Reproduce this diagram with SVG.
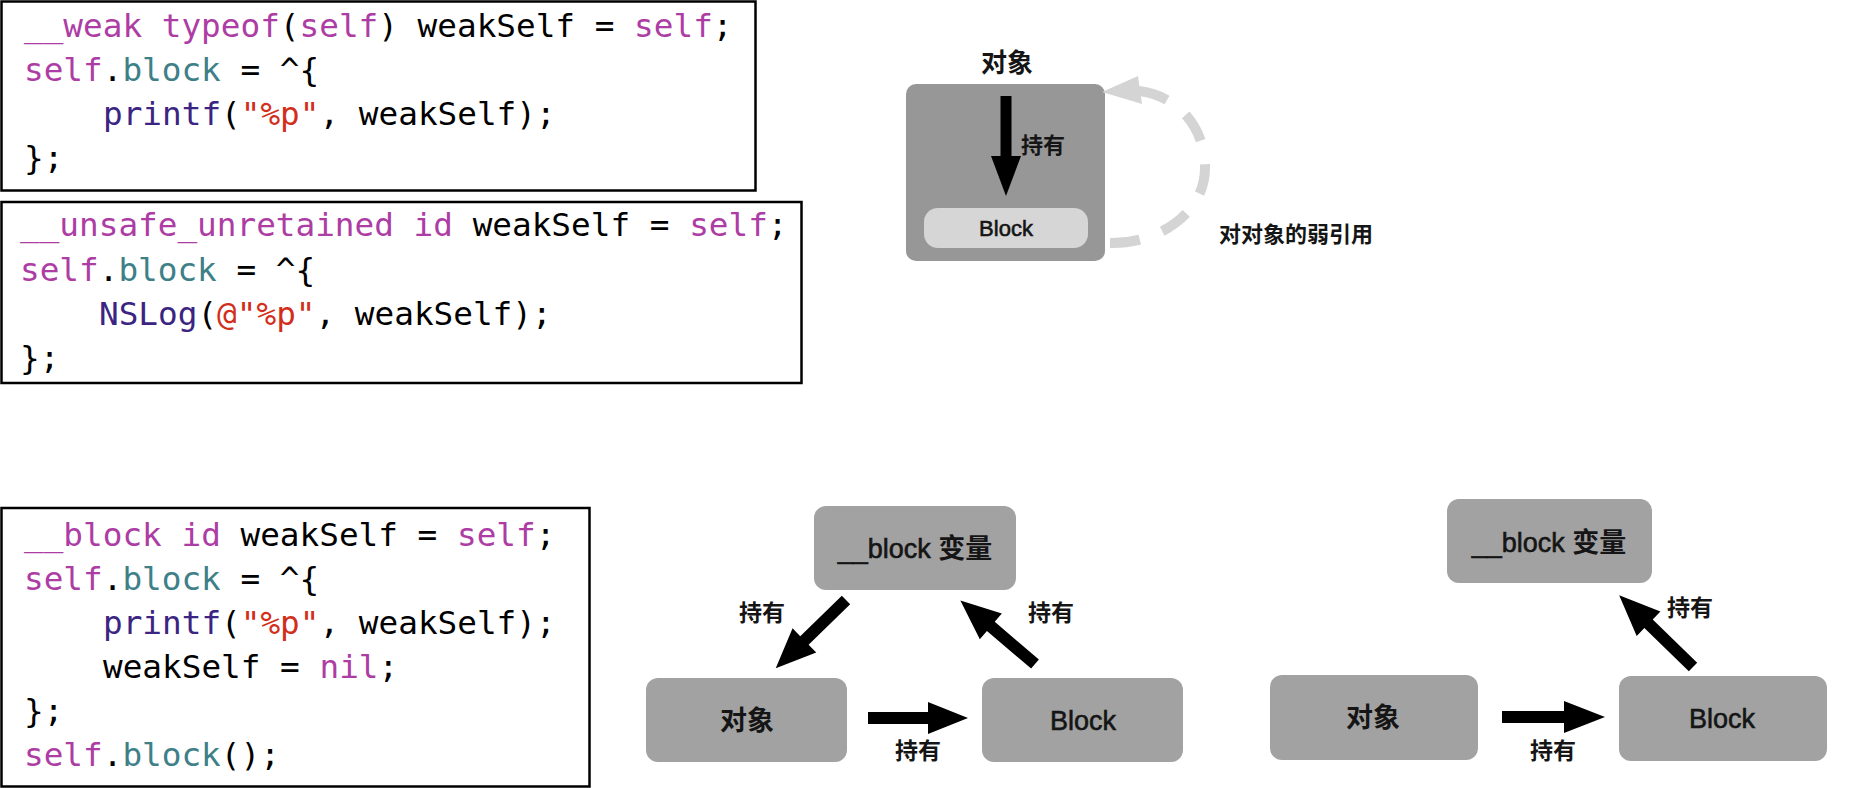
<svg xmlns="http://www.w3.org/2000/svg" width="1852" height="788" viewBox="0 0 1852 788">
  <style>
    .codebox { fill: #ffffff; stroke: #000000; stroke-width: 2.5; }
    .code { font-family: "DejaVu Sans Mono", "Liberation Mono", monospace; font-size: 32.7px; fill: #000000; }
    .kw { fill: #AD3DA4; }
    .prop { fill: #3E8087; }
    .fn { fill: #3B2482; }
    .str { fill: #D12F1B; }
    .gbox { fill: #a2a2a2; }
    .gbig { fill: #979797; }
    .pill { fill: #d6d6d6; }
    .lbl { font-family: "Liberation Sans", "Noto Sans CJK SC", sans-serif; fill: #151515; text-anchor: middle; }
    .heavy { stroke: #151515; stroke-width: 0.6; }
    .cjk { font-family: "Noto Sans CJK SC", "Liberation Sans", sans-serif; font-weight: bold; stroke: none; }
    .arrow { fill: #000000; }
    .dash { fill: none; stroke: #d4d4d4; stroke-width: 10; stroke-dasharray: 30 24; }
  </style>

  <rect width="1852" height="788" fill="#ffffff"/>

  <!-- Code box 1 -->
  <g id="code-weak">
    <rect class="codebox" x="1.5" y="1.5" width="754" height="189"/>
    <text class="code" x="24" y="37"><tspan class="kw">__weak</tspan> <tspan class="kw">typeof</tspan>(<tspan class="kw">self</tspan>) weakSelf = <tspan class="kw">self</tspan>;</text>
    <text class="code" x="24" y="81"><tspan class="kw">self</tspan>.<tspan class="prop">block</tspan> = ^{</text>
    <text class="code" x="103" y="125"><tspan class="fn">printf</tspan>(<tspan class="str">"%p"</tspan>, weakSelf);</text>
    <text class="code" x="24" y="169">};</text>
  </g>

  <!-- Code box 2 -->
  <g id="code-unsafe">
    <rect class="codebox" x="1.5" y="202" width="800" height="181"/>
    <text class="code" x="20" y="236"><tspan class="kw">__unsafe_unretained</tspan> <tspan class="kw">id</tspan> weakSelf = <tspan class="kw">self</tspan>;</text>
    <text class="code" x="20" y="281"><tspan class="kw">self</tspan>.<tspan class="prop">block</tspan> = ^{</text>
    <text class="code" x="99" y="325"><tspan class="fn">NSLog</tspan>(<tspan class="str">@"%p"</tspan>, weakSelf);</text>
    <text class="code" x="20" y="369">};</text>
  </g>

  <!-- Code box 3 -->
  <g id="code-block">
    <rect class="codebox" x="1.5" y="508" width="588" height="278.5"/>
    <text class="code" x="24" y="546"><tspan class="kw">__block</tspan> <tspan class="kw">id</tspan> weakSelf = <tspan class="kw">self</tspan>;</text>
    <text class="code" x="24" y="590"><tspan class="kw">self</tspan>.<tspan class="prop">block</tspan> = ^{</text>
    <text class="code" x="103" y="634"><tspan class="fn">printf</tspan>(<tspan class="str">"%p"</tspan>, weakSelf);</text>
    <text class="code" x="103" y="678">weakSelf = <tspan class="kw">nil</tspan>;</text>
    <text class="code" x="24" y="722">};</text>
    <text class="code" x="24" y="766"><tspan class="kw">self</tspan>.<tspan class="prop">block</tspan>();</text>
  </g>

  <!-- Top-right diagram -->
  <g id="tr-object">
    <text class="lbl cjk" x="1007" y="72" font-size="26">对象</text>
    <rect class="gbig" x="906" y="84" width="199" height="177" rx="10"/>
  </g>
  <g id="tr-block">
    <rect class="pill" x="924" y="208" width="164" height="40" rx="14"/>
    <text class="lbl heavy" x="1006" y="236" font-size="22">Block</text>
  </g>

  <!-- Bottom-middle diagram -->
  <g id="bm-blockvar">
    <rect class="gbox" x="814" y="506" width="202" height="84" rx="12"/>
    <text class="lbl heavy" x="915" y="558" font-size="27">__block <tspan class="cjk">变量</tspan></text>
  </g>
  <g id="bm-object">
    <rect class="gbox" x="646" y="678" width="201" height="84" rx="12"/>
    <text class="lbl cjk" x="747" y="730" font-size="27">对象</text>
  </g>
  <g id="bm-block">
    <rect class="gbox" x="982" y="678" width="201" height="84" rx="12"/>
    <text class="lbl heavy" x="1083" y="730" font-size="27">Block</text>
  </g>

  <!-- Bottom-right diagram -->
  <g id="br-blockvar">
    <rect class="gbox" x="1447" y="499" width="205" height="84" rx="12"/>
    <text class="lbl heavy" x="1549" y="552" font-size="27">__block <tspan class="cjk">变量</tspan></text>
  </g>
  <g id="br-object">
    <rect class="gbox" x="1270" y="675" width="208" height="85" rx="12"/>
    <text class="lbl cjk" x="1373" y="727" font-size="27">对象</text>
  </g>
  <g id="br-block">
    <rect class="gbox" x="1619" y="676" width="208" height="85" rx="12"/>
    <text class="lbl heavy" x="1722" y="728" font-size="27">Block</text>
  </g>

  <!-- Connectors -->
  <g id="connectors">
    <!-- top-right: object holds block -->
    <polygon class="arrow" transform="translate(1006,96) rotate(90)" points="0,-5.5 60,-5.5 60,-15 100,0 60,15 60,5.5 0,5.5"/>
    <text class="lbl cjk" x="1043" y="153" font-size="22">持有</text>
    <!-- top-right: weak reference dashed arc -->
    <path class="dash" d="M 1110 243 C 1160 244, 1205 212, 1205 168 C 1205 122, 1172 94, 1138 91"/>
    <polygon fill="#d4d4d4" points="1102,92 1138,76 1142,104"/>
    <text class="lbl cjk" x="1296" y="242" font-size="22">对对象的弱引用</text>

    <!-- bottom-middle -->
    <polygon class="arrow" transform="translate(846,600) rotate(135.8)" points="0,-6 58,-6 58,-17 98,0 58,17 58,6 0,6"/>
    <text class="lbl cjk" x="762" y="621" font-size="23">持有</text>
    <polygon class="arrow" transform="translate(1035,664) rotate(-139.6)" points="0,-6 58,-6 58,-17 98,0 58,17 58,6 0,6"/>
    <text class="lbl cjk" x="1051" y="621" font-size="23">持有</text>
    <polygon class="arrow" transform="translate(868,718) rotate(0)" points="0,-6 60,-6 60,-16 100,0 60,16 60,6 0,6"/>
    <text class="lbl cjk" x="918" y="759" font-size="23">持有</text>

    <!-- bottom-right -->
    <polygon class="arrow" transform="translate(1502,717) rotate(0)" points="0,-6 62,-6 62,-16 103,0 62,16 62,6 0,6"/>
    <text class="lbl cjk" x="1553" y="759" font-size="23">持有</text>
    <polygon class="arrow" transform="translate(1693,667) rotate(-135.8)" points="0,-6 62,-6 62,-17 103,0 62,17 62,6 0,6"/>
    <text class="lbl cjk" x="1690" y="616" font-size="23">持有</text>
  </g>
</svg>
